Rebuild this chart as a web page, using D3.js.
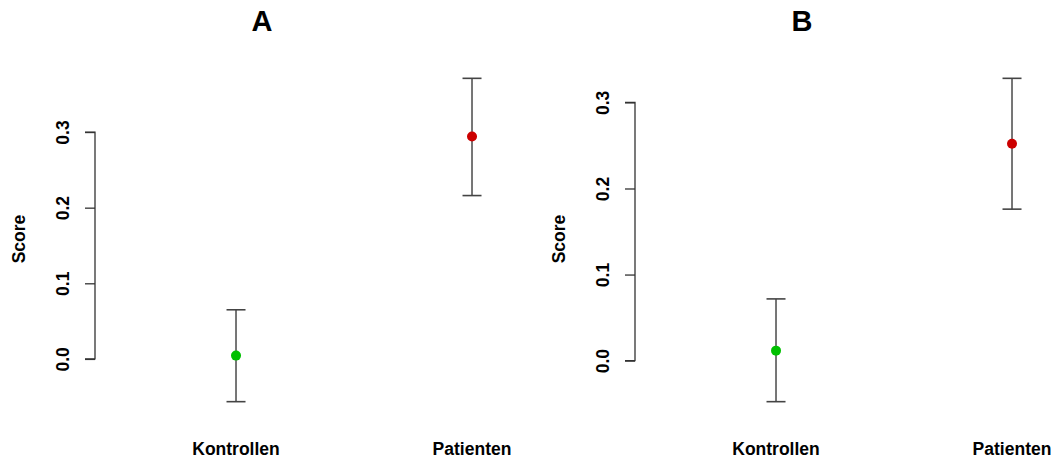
<!DOCTYPE html>
<html>
<head>
<meta charset="utf-8">
<script src="https://cdn.jsdelivr.net/npm/d3@7"></script>
<style>
  html, body { margin: 0; padding: 0; background: #fff; }
  svg { display: block; font-family: "Liberation Sans", Arial, Helvetica, sans-serif; }
</style>
</head>
<body>
<svg id="chart" width="1056" height="461"></svg>
<script>
// Group names on the x axis
const groups = ["Kontrollen", "Patienten"];
const pointColors = ["#00c000", "#cc0000"];

// Panel titles
const panelTitles = ["A", "B"];

// Panel A: mean score with lower / upper interval limits
const meanA  = [0.0044, 0.294];
const lowerA = [-0.0565, 0.216];
const upperA = [0.065, 0.371];

// Panel B: mean score with lower / upper interval limits
const meanB  = [0.0116, 0.252];
const lowerB = [-0.0477, 0.176];
const upperB = [0.0717, 0.328];

// Y axis ticks
const yTicks = [0, 0.1, 0.2, 0.3];

const panels = [
  { title: panelTitles[0], mean: meanA, lower: lowerA, upper: upperA, left: 0 },
  { title: panelTitles[1], mean: meanB, lower: lowerB, upper: upperB, left: 540 }
];

const svg = d3.select("#chart");
const fontSize = 17.5;
const plotTop = 65.4, plotBottom = 414.6;
const axisX = 95;           // y axis position within a panel
const xStep = 236;          // distance between group positions

panels.forEach(p => {
  const g = svg.append("g").attr("transform", `translate(${p.left},0)`);

  // x: group positions 1 and 2
  const x = d3.scaleLinear()
    .domain([0.4025, 2.6])
    .range([axisX, axisX + 2.1975 * xStep]);

  // y: interval range padded by 4% on each side
  const lo = d3.min(p.lower), hi = d3.max(p.upper);
  const pad = 0.04 * (hi - lo);
  const y = d3.scaleLinear()
    .domain([lo - pad, hi + pad])
    .range([plotBottom, plotTop]);

  // y axis: line spans the tick range only
  const axis = d3.axisLeft(y)
    .tickValues(yTicks)
    .tickSize(10)
    .tickPadding(0)
    .tickFormat(d3.format(".1f"));
  const ag = g.append("g")
    .attr("transform", `translate(${axisX},0)`)
    .call(axis);
  ag.select(".domain")
    .attr("d", `M-10,${y(yTicks[0])}H0V${y(yTicks[yTicks.length - 1])}H-10`)
    .attr("stroke", "#333")
    .attr("stroke-width", 1.3)
    .attr("fill", "none");
  ag.selectAll(".tick line").attr("stroke", "#333").attr("stroke-width", 1.3);
  ag.selectAll(".tick text")
    .attr("x", null).attr("dy", null)
    .attr("transform", `translate(-25.7,0) rotate(-90)`)
    .attr("text-anchor", "middle")
    .attr("fill", "#000")
    .style("font-size", fontSize + "px")
    .style("font-weight", "bold")
    .style("font-family", '"Liberation Sans", Arial, sans-serif');

  // y axis title
  g.append("text")
    .attr("transform", `translate(25,239) rotate(-90)`)
    .attr("text-anchor", "middle")
    .style("font-size", fontSize + "px")
    .style("font-weight", "bold")
    .text("Score");

  // panel title
  g.append("text")
    .attr("x", 262)
    .attr("y", 31)
    .attr("text-anchor", "middle")
    .style("font-size", "29px")
    .style("font-weight", "bold")
    .text(p.title);

  // group labels
  g.selectAll("text.grp")
    .data(groups)
    .join("text")
    .attr("class", "grp")
    .attr("x", (d, i) => x(i + 1))
    .attr("y", 455)
    .attr("text-anchor", "middle")
    .style("font-size", fontSize + "px")
    .style("font-weight", "bold")
    .text(d => d);

  // error bars
  const capHalf = 9.5;
  const bars = g.selectAll("g.bar")
    .data(groups.map((name, i) => ({ i, mean: p.mean[i], lower: p.lower[i], upper: p.upper[i] })))
    .join("g")
    .attr("class", "bar");
  bars.append("line")
    .attr("x1", d => x(d.i + 1)).attr("x2", d => x(d.i + 1))
    .attr("y1", d => y(d.lower)).attr("y2", d => y(d.upper))
    .attr("stroke", "#555").attr("stroke-width", 1.6);
  bars.append("line")
    .attr("x1", d => x(d.i + 1) - capHalf).attr("x2", d => x(d.i + 1) + capHalf)
    .attr("y1", d => y(d.upper)).attr("y2", d => y(d.upper))
    .attr("stroke", "#444").attr("stroke-width", 1.6);
  bars.append("line")
    .attr("x1", d => x(d.i + 1) - capHalf).attr("x2", d => x(d.i + 1) + capHalf)
    .attr("y1", d => y(d.lower)).attr("y2", d => y(d.lower))
    .attr("stroke", "#444").attr("stroke-width", 1.6);
  bars.append("circle")
    .attr("cx", d => x(d.i + 1))
    .attr("cy", d => y(d.mean))
    .attr("r", 5)
    .attr("fill", d => pointColors[d.i]);
});
</script>
</body>
</html>
